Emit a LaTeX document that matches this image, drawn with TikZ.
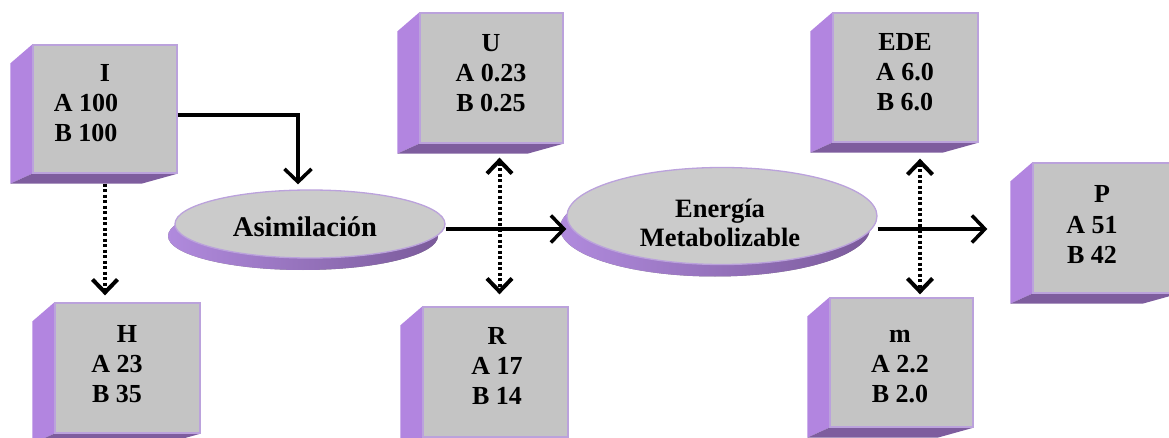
\documentclass[tikz,border=0pt]{standalone}
\usepackage{fontspec}
\setmainfont{Liberation Serif}
\usetikzlibrary{arrows.meta,shapes.geometric,shadows,backgrounds}
\definecolor{facegray}{HTML}{C4C4C4}
\definecolor{ellgray}{HTML}{CBCBCB}
\definecolor{edgepurple}{HTML}{BBA2DC}
\definecolor{sidepurple}{HTML}{B285E0}
\definecolor{botpurple}{HTML}{7E5D9E}
\definecolor{shadelight}{HTML}{B08ADD}
\definecolor{shadedark}{HTML}{7B5B9B}
\newcommand\ttlshift[2]{\makebox[0pt]{\hspace*{#1}\hspace*{#1}#2}}
\newcommand\cubebox[5]{%
  \pgfmathsetmacro\cbw{#4-#2}%
  \pgfmathsetmacro\cbh{#5-#3}%
  \pgfmathsetmacro\cbx{(#2+#4)/2}%
  \pgfmathsetmacro\cby{(#3+#5)/2}%
  \node[frontface, minimum width=\cbw pt, minimum height=\cbh pt] (#1) at (\cbx,\cby) {};
  \begin{scope}[on background layer]
    \fill[sidepurple] (#1.north west) -- ([xshift=-22pt,yshift=-19pt]#1.north west)
      -- ([xshift=-22pt,yshift=-10pt]#1.south west) -- (#1.south west) -- cycle;
    \fill[botpurple] (#1.south west) -- (#1.south east)
      -- ([xshift=-36pt,yshift=-10pt]#1.south east)
      -- ([xshift=-22pt,yshift=-10pt]#1.south west) -- cycle;
  \end{scope}}
\begin{document}
\begin{tikzpicture}[x=1pt,y=-1pt,
  frontface/.style={draw=edgepurple,line width=1.3pt,fill=facegray,inner sep=0pt},
  boxtxt/.style={align=center,anchor=base,inner sep=0pt,font=\bfseries\fontsize{26}{30}\selectfont},
  ellnode/.style={ellipse,draw=edgepurple,line width=1.3pt,fill=ellgray,inner sep=0pt,
    drop shadow={shadow xshift=-7pt,shadow yshift=-12pt,opacity=1,left color=shadelight,right color=shadedark,draw=none}},
  flow/.style={line width=3.5pt,-{Straight Barb[length=13pt,width=27pt,line join=miter]}},
  dotflow/.style={line width=4pt,dash pattern=on 3pt off 2.5pt,-{Straight Barb[length=13pt,width=25pt,line join=miter]}},
  dotboth/.style={line width=4pt,dash pattern=on 3pt off 2.5pt,{Straight Barb[length=13pt,width=25pt,line join=miter]}-{Straight Barb[length=13pt,width=25pt,line join=miter]}}]
\clip (0,0) rectangle (1169,438);

% cubes
\cubebox{I}{33}{45}{177}{173}
\cubebox{U}{420}{13}{563}{143}
\cubebox{EDE}{833}{13}{978}{142}
\cubebox{P}{1033}{163}{1178}{293}
\cubebox{H}{55}{303}{200}{433}
\cubebox{R}{423}{307}{568}{437}
\cubebox{m}{830}{298}{973}{427}

% box texts (anchor = baseline of last line)
\node[boxtxt] (tI) at (86,142) {\ttlshift{19pt}{I}\\A 100\\B 100};
\node[boxtxt] (tU) at (491,112) {U\\A 0.23\\B 0.25};
\node[boxtxt] (tEDE) at (905,111) {EDE\\A 6.0\\B 6.0};
\node[boxtxt] (tP) at (1092,263) {\ttlshift{10pt}{P}\\A 51\\B 42};
\node[boxtxt] (tH) at (117,402) {\ttlshift{10pt}{H}\\A 23\\B 35};
\node[boxtxt] (tR) at (497,404) {R\\A 17\\B 14};
\node[boxtxt] (tm) at (900,402) {m\\A 2.2\\B 2.0};

% ellipses
\node[ellnode,minimum width=270pt,minimum height=68pt] (asim) at (310,224) {};
\node[ellnode,minimum width=310pt,minimum height=97pt] (energ) at (722,216) {};
\node[anchor=base,inner sep=0pt,font=\bfseries\fontsize{28.5}{30}\selectfont] (tasim) at (305,237) {Asimilación};
\node[anchor=base,inner sep=0pt,align=center,font=\bfseries\fontsize{26.5}{29}\selectfont] (tenerg) at (720,247) {Energía\\Metabolizable};

% helper coordinates
\coordinate (Ia) at ([yshift=-6pt]I.east);
\coordinate (Ab) at ([xshift=-12pt,yshift=5pt]asim.north);
\coordinate (As) at ([yshift=-5pt]asim.east);
\coordinate (Ee) at ([yshift=-13pt]energ.east);
\coordinate (Pin) at ([xshift=-45pt]P.west);
\coordinate (Is) at ([yshift=-10pt]I.south);
\coordinate (Ht) at ([yshift=7pt]H.north);
\coordinate (UR1) at ([xshift=8pt,yshift=-14pt]U.south);
\coordinate (Rt) at ([yshift=12pt]R.north);
\coordinate (EM1) at ([xshift=14.5pt,yshift=-16pt]EDE.south);
\coordinate (Mt) at ([yshift=3pt]m.north);

% connectors
\draw[flow] (Ia) -| (Ab);
\draw[flow] (As) -- (As -| energ.west);
\draw[flow] (Ee) -- (Ee -| Pin);
\draw[dotflow] (Is) -- (Is |- Ht);
\draw[dotboth] (UR1) -- (UR1 |- Rt);
\draw[dotboth] (EM1) -- (EM1 |- Mt);
\end{tikzpicture}
\end{document}
